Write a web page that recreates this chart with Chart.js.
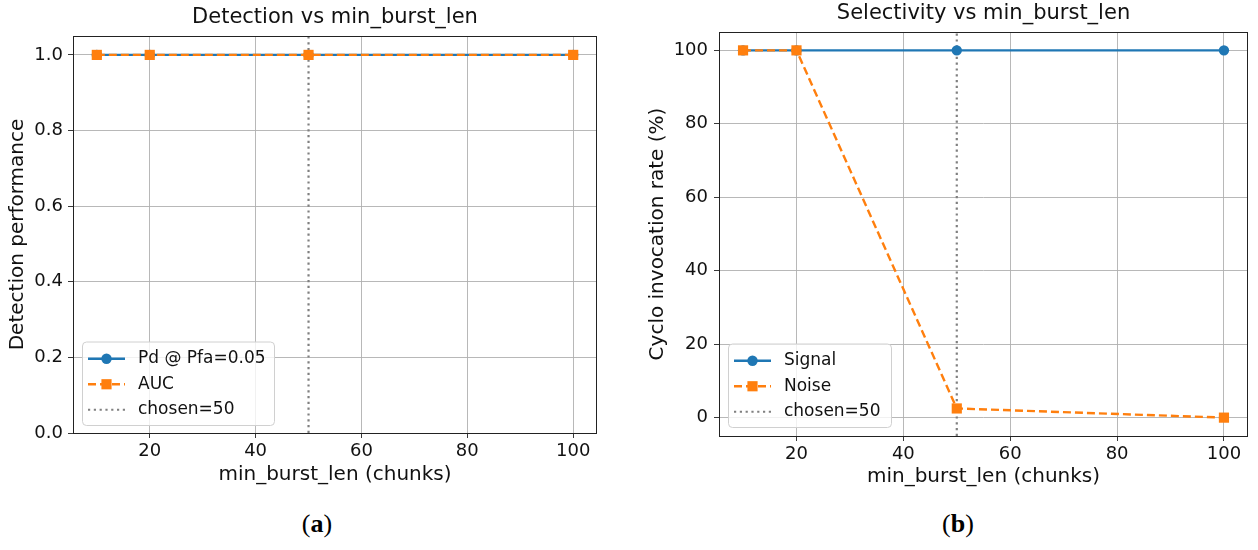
<!DOCTYPE html>
<html>
<head>
<meta charset="utf-8">
<script src="https://cdn.jsdelivr.net/npm/chart.js@4.4.1/dist/chart.umd.min.js"></script>
<style>
  html, body { margin: 0; padding: 0; background: #fff; }
  body { width: 1258px; height: 550px; position: relative; overflow: hidden; }
  canvas { position: absolute; top: 0; }
  #left { left: 0; }
  #right { left: 629px; }
  .cap {
    position: absolute; top: 509px; width: 100px; text-align: center;
    font-family: "Liberation Serif", "DejaVu Serif", serif; font-size: 26px; color: #000;
  }
  .cap b { font-weight: bold; }
</style>
</head>
<body>
<canvas id="left" width="629" height="490"></canvas>
<canvas id="right" width="629" height="490"></canvas>
<div class="cap" style="left:267px">(<b>a</b>)</div>
<div class="cap" style="left:908px">(<b>b</b>)</div>
<script>
// ---- data ----
const burstLens = [10, 20, 50, 100];
const pdAtPfa = [1.0, 1.0, 1.0, 1.0];
const aucValues = [1.0, 1.0, 1.0, 1.0];
const signalRate = [100, 100, 100, 100];
const noiseRate = [100, 100, 2.5, 0];
const chosenLen = 50;

const xTicks = [20, 40, 60, 80, 100];
const detTicks = [0, 0.2, 0.4, 0.6, 0.8, 1.0];
const rateTicks = [0, 20, 40, 60, 80, 100];

const titleA = 'Detection vs min_burst_len';
const titleB = 'Selectivity vs min_burst_len';
const xLabel = 'min_burst_len (chunks)';
const yLabelA = 'Detection performance';
const yLabelB = 'Cyclo invocation rate (%)';

const BLUE = '#1f77b4';
const ORANGE = '#ff7f0e';
const GRAY = '#808080';
const FONT = 'DejaVu Sans';
const TXT = '#111';

function pts(xs, ys) {
  return xs.map((x, i) => ({ x: x, y: ys[i] }));
}

// frame, title and in-axes legend, the way matplotlib draws them
const mplDecor = {
  id: 'mplDecor',
  afterDraw(chart, args, opts) {
    const ctx = chart.ctx;
    const a = chart.chartArea;
    ctx.save();
    ctx.strokeStyle = '#222';
    ctx.lineWidth = 1;
    ctx.strokeRect(a.left + 0.5, a.top + 0.5, a.right - a.left - 1, a.bottom - a.top);

    ctx.fillStyle = TXT;
    ctx.font = '21px "' + FONT + '"';
    ctx.textAlign = 'center';
    ctx.textBaseline = 'middle';
    ctx.fillText(opts.title, (a.left + a.right) / 2, opts.titleY);

    // legend box
    const sets = chart.data.datasets;
    const bx = a.left + opts.lx, bw = opts.lw, rowH = 25.5;
    const bh = rowH * sets.length + 7;
    const by = a.bottom - opts.lb - bh;
    ctx.beginPath();
    ctx.roundRect(bx + 0.5, by + 0.5, bw, bh, 4);
    ctx.fillStyle = 'rgba(255,255,255,0.8)';
    ctx.fill();
    ctx.strokeStyle = '#d0d0d0';
    ctx.lineWidth = 1;
    ctx.stroke();

    ctx.font = '17px "' + FONT + '"';
    ctx.textAlign = 'left';
    sets.forEach((ds, i) => {
      const cy = by + 3.5 + rowH * (i + 0.5) + 1;
      const x0 = bx + 6, x1 = bx + 43;
      ctx.strokeStyle = ds.borderColor;
      ctx.lineWidth = ds.borderWidth;
      ctx.setLineDash(ds.borderDash || []);
      ctx.beginPath();
      ctx.moveTo(x0, cy);
      ctx.lineTo(x1, cy);
      ctx.stroke();
      ctx.setLineDash([]);
      if (ds.pointRadius > 0) {
        ctx.fillStyle = ds.pointBackgroundColor;
        Chart.helpers.drawPoint(ctx, { pointStyle: ds.pointStyle, radius: ds.pointRadius, borderWidth: 0 }, (x0 + x1) / 2, cy);
      }
      ctx.fillStyle = TXT;
      ctx.fillText(ds.label, bx + 56, cy);
    });
    ctx.restore();
  }
};

function lineSet(label, data, color, dashed, style, order) {
  return {
    label: label,
    data: data,
    borderColor: color,
    backgroundColor: color,
    pointBackgroundColor: color,
    pointBorderColor: color,
    borderWidth: 2.4,
    borderDash: dashed ? [8, 4] : [],
    pointStyle: style,
    pointRadius: style === 'rect' ? 7.2 : 5.2,
    pointHoverRadius: 5,
    pointBorderWidth: 0,
    tension: 0,
    fill: false,
    order: order
  };
}

function chosenSet(lo, hi) {
  return {
    label: 'chosen=' + chosenLen,
    data: [{ x: chosenLen, y: lo }, { x: chosenLen, y: hi }],
    borderColor: GRAY,
    backgroundColor: GRAY,
    borderWidth: 2.2,
    borderDash: [2.2, 3.6],
    pointRadius: 0,
    fill: false,
    order: 5
  };
}

function makeChart(id, cfg) {
  const tickFont = { family: FONT, size: 18 };
  const lblFont = { family: FONT, size: 20 };
  const grid = { color: '#b0b0b0', lineWidth: 0.9, tickLength: 5, tickColor: '#222', drawOnChartArea: true };
  return new Chart(document.getElementById(id), {
    type: 'line',
    data: { datasets: cfg.datasets },
    options: {
      responsive: false,
      animation: false,
      devicePixelRatio: 1,
      layout: { padding: { top: cfg.top, right: cfg.right, left: 0, bottom: 0 } },
      plugins: {
        legend: { display: false },
        tooltip: { enabled: false },
        title: { display: false },
        mplDecor: { title: cfg.title, titleY: cfg.titleY, lx: cfg.lx, lw: cfg.lw, lb: cfg.lb }
      },
      scales: {
        x: {
          type: 'linear',
          min: 5.5,
          max: 104.5,
          afterBuildTicks: (s) => { s.ticks = xTicks.map((v) => ({ value: v })); },
          afterFit: (s) => { s.height = cfg.xh; },
          ticks: { font: tickFont, color: TXT, padding: 3, maxRotation: 0 },
          grid: grid,
          border: { display: false },
          title: { display: true, text: xLabel, font: lblFont, color: TXT, padding: { top: 0, bottom: cfg.xtp } }
        },
        y: {
          type: 'linear',
          min: cfg.ymin,
          max: cfg.ymax,
          afterBuildTicks: (s) => { s.ticks = cfg.yTicks.map((v) => ({ value: v })); },
          afterFit: (s) => { s.width = cfg.yw; },
          ticks: { font: tickFont, color: TXT, padding: cfg.ypad, callback: cfg.fmt },
          grid: grid,
          border: { display: false },
          title: { display: true, text: cfg.ylabel, font: lblFont, color: TXT, padding: { top: cfg.ytp, bottom: 0 } }
        }
      }
    },
    plugins: [mplDecor]
  });
}

makeChart('left', {
  datasets: [
    lineSet('Pd @ Pfa=0.05', pts(burstLens, pdAtPfa), BLUE, false, 'circle', 3),
    lineSet('AUC', pts(burstLens, aucValues), ORANGE, true, 'rect', 2),
    chosenSet(0, 1.05)
  ],
  top: 36, right: 32, yw: 73, xh: 57, xtp: 3, ytp: 6, ypad: 5,
  ymin: 0, ymax: 1.05, yTicks: detTicks, fmt: (v) => v.toFixed(1),
  ylabel: yLabelA, title: titleA, titleY: 18,
  lx: 9, lw: 192, lb: 8
});

makeChart('right', {
  datasets: [
    lineSet('Signal', pts(burstLens, signalRate), BLUE, false, 'circle', 3),
    lineSet('Noise', pts(burstLens, noiseRate), ORANGE, true, 'rect', 2),
    chosenSet(-5, 105)
  ],
  top: 32, right: 10, yw: 90, xh: 54, xtp: 1, ytp: 17, ypad: 6,
  ymin: -5, ymax: 105, yTicks: rateTicks, fmt: (v) => String(v),
  ylabel: yLabelB, title: titleB, titleY: 14,
  lx: 9, lw: 163, lb: 9
});
</script>
</body>
</html>
